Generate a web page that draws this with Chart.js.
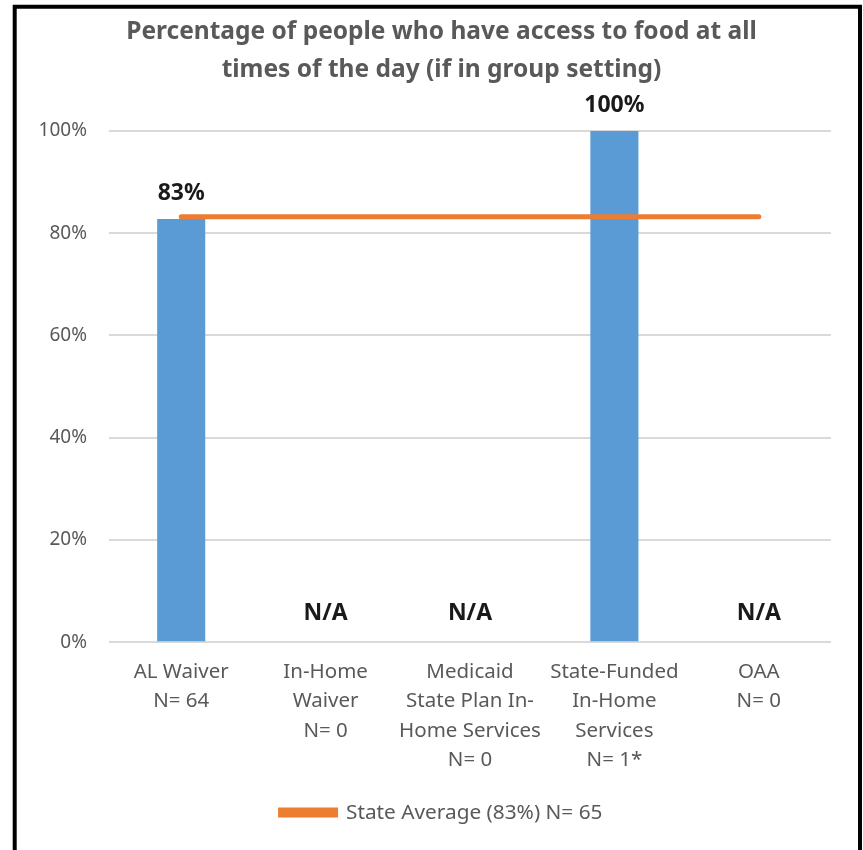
<!DOCTYPE html>
<html>
<head>
<meta charset="utf-8">
<script src="https://cdn.jsdelivr.net/npm/chart.js@4.4.1/dist/chart.umd.min.js"></script>
<style>
  html, body { margin: 0; padding: 0; background: #ffffff; }
  #wrap { position: relative; width: 863px; height: 850px; }
</style>
</head>
<body>
<div id="wrap"><canvas id="c" width="863" height="850"></canvas></div>
<script>
// ---- data ----
const categories = [
  ["AL Waiver", "N= 64"],
  ["In-Home", "Waiver", "N= 0"],
  ["Medicaid", "State Plan In-", "Home Services", "N= 0"],
  ["State-Funded", "In-Home", "Services", "N= 1*"],
  ["OAA", "N= 0"]
];
const programValues = [82.8, null, null, 100, null];
const stateAverage = [83.2, 83.2, 83.2, 83.2, 83.2];
const stateAverageLabel = "State Average (83%) N= 65";
const yTicks = [0, 20, 40, 60, 80, 100];
const titleLines = ["Percentage of people who have access to food at all", "times of the day (if in group setting)"];

const FONT = "'Noto Sans', 'DejaVu Sans', sans-serif";
const GRAY = "#595959";

const frame = {
  id: 'frame',
  afterLayout(chart) {
    // centre title and legend over the whole frame, as in the original
    const shift = 16;
    [chart.titleBlock, chart.legend].forEach(b => {
      if (b) { b.left += shift; b.right += shift; }
    });
  },
  afterDraw(chart) {
    const ctx = chart.ctx;
    ctx.save();
    ctx.strokeStyle = '#000';
    ctx.lineWidth = 4;
    ctx.beginPath();
    ctx.moveTo(14.7, 852);
    ctx.lineTo(14.7, 6.7);
    ctx.lineTo(860, 6.7);
    ctx.lineTo(860, 852);
    ctx.stroke();
    ctx.restore();
  }
};

const barLabels = {
  id: 'barLabels',
  afterDatasetsDraw(chart) {
    const ctx = chart.ctx;
    const meta = chart.getDatasetMeta(1);
    const xs = chart.scales.x, ys = chart.scales.y;
    ctx.save();
    ctx.font = "bold 23px " + FONT;
    ctx.fillStyle = '#1a1a1a';
    ctx.textAlign = 'center';
    ctx.textBaseline = 'middle';
    programValues.forEach((v, i) => {
      if (v === null) {
        ctx.fillText('N/A', xs.getPixelForValue(i), ys.getPixelForValue(0) - 29);
      } else {
        const el = meta.data[i];
        ctx.fillText(Math.round(v) + '%', el.x, el.y - 25);
      }
    });
    ctx.restore();
  }
};

new Chart(document.getElementById('c'), {
  data: {
    labels: categories,
    datasets: [
      {
        type: 'line',
        label: stateAverageLabel,
        data: stateAverage,
        borderColor: '#ED7D31',
        backgroundColor: '#ED7D31',
        borderWidth: 5,
        borderCapStyle: 'round',
        pointRadius: 0,
        pointHoverRadius: 0,
        fill: false,
        order: 0
      },
      {
        type: 'bar',
        label: 'Programs',
        data: programValues,
        backgroundColor: '#5B9BD5',
        borderWidth: 0,
        categoryPercentage: 1,
        barPercentage: 0.333,
        order: 1
      }
    ]
  },
  options: {
    responsive: false,
    devicePixelRatio: 1,
    animation: false,
    layout: { padding: { left: 20, right: 32, top: 8, bottom: 17 } },
    plugins: {
      title: {
        display: true,
        text: titleLines,
        color: GRAY,
        font: { family: FONT, size: 24.5, weight: 'bold', lineHeight: 1.55 },
        padding: { top: 5, bottom: 42 }
      },
      legend: {
        position: 'bottom',
        labels: {
          filter: (item) => item.datasetIndex === 0,
          color: GRAY,
          font: { family: FONT, size: 20.8 },
          boxWidth: 55,
          boxHeight: 5,
          padding: 10
        }
      },
      tooltip: { enabled: false }
    },
    scales: {
      x: {
        grid: { display: false, drawTicks: false },
        border: { display: false },
        ticks: {
          color: GRAY,
          font: { family: FONT, size: 20.5, lineHeight: 1.44 },
          padding: 15,
          maxRotation: 0,
          autoSkip: false
        },
        afterFit(scale) { scale.height = 150; }
      },
      y: {
        min: 0,
        max: 100,
        afterBuildTicks(scale) { scale.ticks = yTicks.map(v => ({ value: v })); },
        grid: { color: '#D9D9D9', lineWidth: 2, drawTicks: false },
        border: { display: false },
        ticks: {
          color: GRAY,
          font: { family: FONT, size: 19 },
          padding: 22,
          callback: (v) => v + '%'
        },
        afterFit(scale) { scale.width = 89; }
      }
    }
  },
  plugins: [frame, barLabels]
});
</script>
</body>
</html>
